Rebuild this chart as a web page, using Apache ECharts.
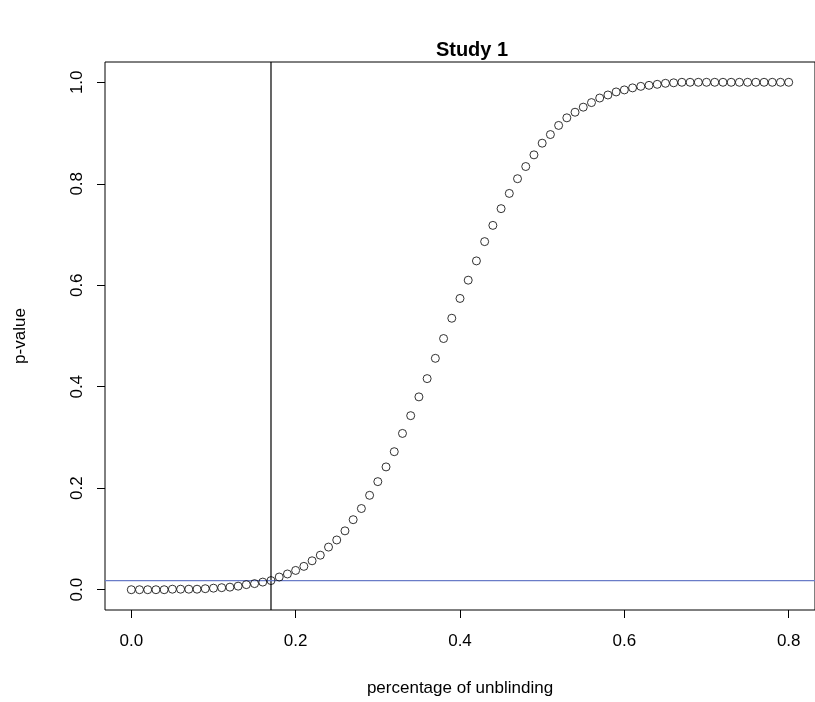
<!DOCTYPE html>
<html>
<head>
<meta charset="utf-8">
<script src="https://cdn.jsdelivr.net/npm/echarts@6/dist/echarts.min.js"></script>
<style>
html,body{margin:0;padding:0;background:#fff;}
#chart{width:815px;height:702px;}
</style>
</head>
<body>
<div id="chart"></div>
<script>
// proportion of unblinding (x) and p-value (y)
var unblinding = [
 0.00,0.01,0.02,0.03,0.04,0.05,0.06,0.07,0.08,0.09,
 0.10,0.11,0.12,0.13,0.14,0.15,0.16,0.17,0.18,0.19,
 0.20,0.21,0.22,0.23,0.24,0.25,0.26,0.27,0.28,0.29,
 0.30,0.31,0.32,0.33,0.34,0.35,0.36,0.37,0.38,0.39,
 0.40,0.41,0.42,0.43,0.44,0.45,0.46,0.47,0.48,0.49,
 0.50,0.51,0.52,0.53,0.54,0.55,0.56,0.57,0.58,0.59,
 0.60,0.61,0.62,0.63,0.64,0.65,0.66,0.67,0.68,0.69,
 0.70,0.71,0.72,0.73,0.74,0.75,0.76,0.77,0.78,0.79,
 0.80
];
var pValues = [
 0.000,0.000,0.000,0.000,0.000,0.001,0.001,0.001,0.001,0.002,
 0.003,0.004,0.005,0.007,0.010,0.012,0.015,0.018,0.025,0.031,
 0.038,0.046,0.057,0.068,0.084,0.098,0.116,0.138,0.160,0.186,
 0.213,0.242,0.272,0.308,0.343,0.380,0.416,0.456,0.495,0.535,
 0.574,0.610,0.648,0.686,0.718,0.751,0.781,0.810,0.834,0.857,
 0.880,0.897,0.915,0.930,0.941,0.951,0.960,0.969,0.975,0.981,
 0.985,0.989,0.992,0.994,0.996,0.998,0.999,1.000,1.000,1.000,
 1.000,1.000,1.000,1.000,1.000,1.000,1.000,1.000,1.000,1.000,
 1.000
];
var xTicks = [0.0, 0.2, 0.4, 0.6, 0.8];
var yTicks = [0.0, 0.2, 0.4, 0.6, 0.8, 1.0];
var xRange = [-0.032, 0.832];   // R-style 4% padded axis range
var yRange = [-0.04, 1.04];
var cutoffX = 0.17;      // vertical reference line
var cutoffP = 0.018;     // horizontal reference line

var points = unblinding.map(function(x, i){ return [x, pValues[i]]; });
var vLine = [[cutoffX, yRange[0]], [cutoffX, yRange[1]]];
var hLine = [[xRange[0], cutoffP], [xRange[1], cutoffP]];
var font = 'Liberation Sans, Arial, sans-serif';

var chart = echarts.init(document.getElementById('chart'), null, {renderer:'canvas'});
chart.setOption({
  animation: false,
  backgroundColor: '#ffffff',
  title: {
    text: 'Study 1',
    left: 467, top: 35, textAlign: 'center',
    textStyle: {fontFamily: font, fontSize: 20, fontWeight: 'bold', color: '#000'}
  },
  grid: {
    left: 105, top: 62, width: 721, height: 549,
    show: true, borderColor: '#000', borderWidth: 1, backgroundColor: 'transparent'
  },
  xAxis: {
    type: 'value', min: xRange[0], max: xRange[1],
    name: 'percentage of unblinding', nameLocation: 'middle', nameGap: 70,
    nameTextStyle: {fontFamily: font, fontSize: 17, color: '#000'},
    splitLine: {show: false},
    axisLine: {show: false, onZero: false},
    axisTick: {show: true, inside: false, length: 8, customValues: xTicks, lineStyle: {color: '#000'}},
    axisLabel: {customValues: xTicks, margin: 23, fontFamily: font, fontSize: 17, color: '#000',
      formatter: function(v){ return v.toFixed(1); }}
  },
  yAxis: {
    type: 'value', min: yRange[0], max: yRange[1],
    name: 'p-value', nameLocation: 'middle', nameGap: 76, nameRotate: 90,
    nameTextStyle: {fontFamily: font, fontSize: 17, color: '#000'},
    splitLine: {show: false},
    axisLine: {show: false, onZero: false},
    axisTick: {show: true, inside: false, length: 8, customValues: yTicks, lineStyle: {color: '#000'}},
    axisLabel: {customValues: yTicks, rotate: 90, margin: 19, fontFamily: font, fontSize: 17, color: '#000',
      formatter: function(v){ return v.toFixed(1); }}
  },
  series: [{
    type: 'line', data: vLine, symbol: 'none', silent: true, z: 1,
    lineStyle: {color: '#000000', width: 1.2}
  }, {
    type: 'line', data: hLine, symbol: 'none', silent: true, z: 1,
    lineStyle: {color: '#6a7cc8', width: 1.3}
  }, {
    type: 'scatter',
    data: points, z: 3,
    symbol: 'circle',
    symbolSize: 8,
    itemStyle: {color: 'rgba(0,0,0,0)', borderColor: '#000', borderWidth: 1}
  }]
});
</script>
</body>
</html>
